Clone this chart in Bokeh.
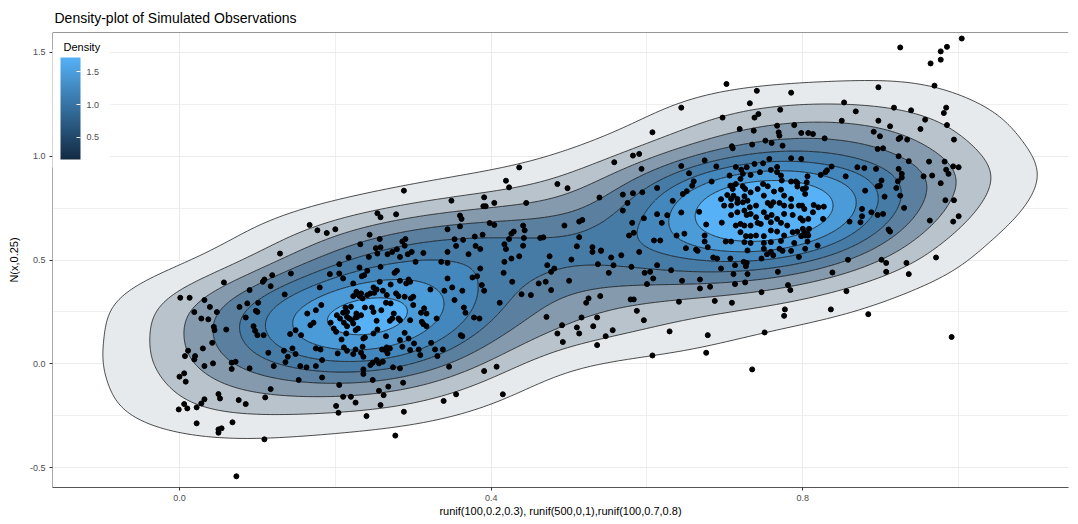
import numpy as np
from bokeh.plotting import figure
from bokeh.models import (ColorBar, LinearColorMapper, FixedTicker, Span, Range1d,
                          PrintfTickFormatter, Label)
from bokeh.embed import file_html
from bokeh.resources import INLINE

# ---------------- observations ----------------
# upper-left band
xA = [0.436,0.419,0.423,0.288,0.349,0.391,0.390,0.393,0.404,0.445,
      0.254,0.258,0.278,0.360,0.362,0.167,0.177,0.189,0.200,0.398,
      0.404,0.344,0.360,0.441,0.443,0.244,0.232,0.257,0.290,0.286,
      0.389,0.379,0.353,0.364,0.426,0.429,0.417,0.423,0.442,0.463,
      0.467,0.252,0.258,0.279,0.289,0.355,0.380,0.386,0.419,0.441]
yA = [0.946,0.882,0.850,0.834,0.786,0.802,0.759,0.759,0.775,0.775,
      0.725,0.706,0.720,0.714,0.698,0.669,0.643,0.630,0.648,0.678,
      0.669,0.648,0.662,0.666,0.643,0.622,0.576,0.601,0.601,0.589,
      0.622,0.613,0.600,0.597,0.627,0.637,0.576,0.601,0.606,0.606,
      0.609,0.557,0.561,0.552,0.569,0.568,0.568,0.553,0.553,0.569]
# upper part of right cluster
xB1 = [0.702,0.741,0.785,0.644,0.732,0.771,0.697,0.738,0.743,0.719,
       0.737,0.767,0.769,0.770,0.789,0.798,0.807,0.607,0.582,0.590,
       0.558,0.593,0.709,0.710,0.735,0.752,0.760,0.774,0.674,0.644,
       0.654,0.689,0.714,0.728,0.738,0.749,0.757,0.767,0.785,0.798]
yB1 = [1.348,1.315,1.306,1.234,1.255,1.224,1.186,1.186,1.203,1.131,
       1.123,1.147,1.115,1.099,1.150,1.112,1.112,1.115,1.003,1.011,
       0.971,0.939,1.048,1.038,1.056,1.075,1.064,1.051,0.980,0.953,
       0.918,0.951,0.948,0.947,0.963,0.966,0.987,0.948,0.990,0.987]
xB2 = [0.485,0.498,0.539,0.569,0.582,0.594,0.575,0.613,0.646,0.651,
       0.660,0.658,0.683,0.706,0.721,0.723,0.720,0.733,0.745,0.759,
       0.767,0.772,0.773,0.785,0.793,0.806,0.569,0.581,0.596,0.613,
       0.626,0.633,0.644,0.667,0.676,0.695,0.696,0.710]
yB2 = [0.866,0.846,0.801,0.815,0.822,0.826,0.775,0.847,0.818,0.831,
       0.879,0.858,0.878,0.907,0.935,0.915,0.891,0.910,0.923,0.934,
       0.923,0.907,0.883,0.878,0.871,0.903,0.738,0.679,0.701,0.721,
       0.716,0.785,0.729,0.732,0.671,0.793,0.680,0.858]
# core of right cluster
xB3 = [0.707,0.710,0.714,0.723,0.726,0.711,0.708,0.703,0.716,0.725,
       0.733,0.742,0.749,0.755,0.763,0.772,0.776,0.785,0.791,0.793,
       0.800,0.805,0.699,0.708,0.716,0.723,0.729,0.732,0.740,0.750,
       0.755,0.759,0.762,0.770,0.776,0.785,0.795,0.802,0.708,0.716,
       0.725,0.728,0.733,0.740,0.750,0.754,0.760,0.767,0.776,0.787,
       0.797,0.807,0.714,0.720,0.725,0.733,0.742,0.746,0.759,0.772,
       0.780,0.793,0.802,0.808,0.720,0.727,0.733,0.740,0.750,0.759,
       0.767,0.776,0.787,0.798,0.807,0.701,0.708,0.725,0.733,0.750,
       0.759,0.772,0.789,0.806,0.650,0.663,0.678,0.729,0.750,0.770]
yB3 = [0.858,0.842,0.866,0.855,0.842,0.810,0.794,0.813,0.794,0.807,
       0.826,0.842,0.866,0.855,0.830,0.839,0.810,0.794,0.878,0.854,
       0.842,0.874,0.762,0.762,0.775,0.778,0.786,0.754,0.762,0.810,
       0.775,0.762,0.778,0.775,0.762,0.759,0.762,0.746,0.717,0.730,
       0.738,0.717,0.722,0.706,0.730,0.706,0.717,0.698,0.722,0.717,
       0.701,0.698,0.666,0.674,0.666,0.666,0.679,0.674,0.682,0.679,
       0.666,0.637,0.634,0.650,0.634,0.615,0.615,0.618,0.615,0.642,
       0.637,0.618,0.634,0.615,0.618,0.589,0.589,0.586,0.582,0.582,
       0.586,0.592,0.582,0.589,0.557,0.550,0.562,0.546,0.554,0.554]
xB4 = [0.494,0.513,0.517,0.577,0.583,0.619,0.648,0.638,0.609,0.617,
       0.674,0.674,0.513,0.510,0.530,0.541]
yB4 = [0.666,0.685,0.693,0.618,0.631,0.679,0.627,0.618,0.594,0.594,
       0.618,0.589,0.610,0.566,0.562,0.546]
# right side, upper
xC = [1.004,0.985,0.977,0.977,0.964,0.925,0.969,0.897,0.853,0.868,
      0.917,0.939,0.984,0.981,0.850,0.897,0.912,0.957,0.951,0.985,
      0.891,0.899,0.923,0.925,0.934,0.994,0.828,0.813,0.896,0.903,
      0.923,0.936,0.962,0.982,0.993,1.000,0.984,0.987,0.955,0.966,
      0.977,0.923,0.927,0.927,0.922,0.920,0.901,0.899,0.896,0.894,
      0.879,0.870,0.855,0.837,0.831,0.829,0.823,0.804,0.803,0.799,
      0.814,0.820,0.827,0.813,0.826,0.800,0.800,0.803,0.806,0.880,
      0.905,0.925,0.930,0.896,0.903,0.876,0.888,0.876,0.874,0.860,
      0.910,0.912,0.983,0.994,1.000,0.963,0.993,0.971,0.858,0.901,
      0.819,0.803]
yC = [1.567,1.527,1.505,1.465,1.447,1.524,1.340,1.332,1.259,1.216,
      1.234,1.221,1.234,1.208,1.171,1.171,1.144,1.176,1.131,1.150,
      1.118,1.096,1.083,1.089,1.080,1.080,1.086,1.107,1.035,1.038,
      1.000,0.976,0.974,0.974,0.951,0.947,0.935,0.915,0.903,0.907,
      0.870,0.939,0.915,0.897,0.879,0.847,0.883,0.858,0.855,0.939,
      0.943,0.947,0.903,0.950,0.932,0.923,0.910,0.847,0.818,0.762,
      0.765,0.754,0.757,0.730,0.698,0.690,0.650,0.618,0.626,0.834,
      0.805,0.810,0.751,0.717,0.722,0.746,0.730,0.711,0.682,0.685,
      0.647,0.637,0.788,0.788,0.711,0.690,0.685,0.512,0.501,0.501,
      0.570,0.554]
# left side, lower
xD = [0.129,0.057,0.001,0.013,0.032,0.039,0.019,0.028,0.037,0.048,
      0.044,0.045,0.060,0.011,0.007,0.020,0.019,0.030,0.042,0.043,
      0.032,0.067,0.072,0.067,0.000,0.006,0.008,0.050,0.052,0.032,
      0.028,0.022,0.006,-0.001,0.010,0.076,0.085,0.110,0.117,0.022,
      0.068,0.050,0.054,0.050,0.109,0.073,0.090,0.107,0.109,0.119,
      0.143,0.117,0.135,0.077,0.087,0.101,0.098,0.100,0.085,0.095,
      0.097,0.108,0.100,0.114,0.121,0.134,0.139,0.145,0.149,0.136,
      0.149,0.142,0.153,0.090]
yD = [0.531,0.392,0.318,0.318,0.307,0.274,0.249,0.218,0.214,0.249,
      0.178,0.162,0.165,0.063,0.037,0.037,0.021,0.074,0.101,0.002,
      -0.011,0.005,0.010,-0.025,-0.062,-0.046,-0.086,-0.146,-0.167,-0.171,
      -0.191,-0.210,-0.194,-0.220,-0.215,-0.175,-0.194,-0.162,-0.122,-0.287,
      -0.282,-0.316,-0.311,-0.332,-0.364,-0.542,0.355,0.395,0.406,0.427,
      0.435,0.374,0.334,0.274,0.291,0.294,0.255,0.250,0.223,0.181,
      0.159,0.138,0.138,0.053,-0.011,0.063,0.034,0.074,0.047,0.008,
      0.162,0.143,-0.078,-0.022]
# left cluster and middle, lower
xE = [0.217,0.243,0.254,0.267,0.273,0.283,0.293,0.298,0.313,0.344,
      0.371,0.417,0.426,0.436,0.475,0.205,0.231,0.258,0.279,0.276,
      0.303,0.336,0.344,0.386,0.416,0.427,0.472,0.477,0.481,0.193,
      0.205,0.210,0.223,0.234,0.241,0.237,0.249,0.257,0.271,0.283,
      0.291,0.294,0.296,0.322,0.340,0.344,0.350,0.363,0.376,0.382,
      0.388,0.391,0.461,0.477,0.439,0.451,0.180,0.182,0.164,0.175,
      0.172,0.168,0.202,0.210,0.213,0.215,0.220,0.223,0.227,0.229,
      0.231,0.233,0.235,0.241,0.245,0.250,0.253,0.261,0.266,0.265,
      0.271,0.278,0.281,0.289,0.297,0.300,0.300,0.314,0.317,0.310,
      0.227,0.215,0.218,0.221,0.228,0.233,0.238,0.247,0.249,0.253,
      0.259,0.270,0.273,0.275,0.281,0.283,0.289,0.296,0.311,0.313,
      0.330,0.353,0.365,0.367,0.378,0.385,0.411,0.156,0.198,0.194,
      0.206,0.211,0.215,0.223,0.226,0.229,0.226,0.201,0.208,0.214,
      0.236,0.238,0.265,0.254,0.249,0.283,0.294,0.301,0.323,0.361,
      0.363,0.317,0.260,0.264,0.267,0.266,0.270,0.286,0.296,0.307,
      0.328,0.338,0.309,0.331,0.283,0.261,0.256,0.253,0.248,0.245,
      0.236,0.233,0.235,0.226,0.223,0.215,0.211,0.203,0.175,0.181,
      0.183,0.175,0.163,0.155,0.183,0.205,0.210,0.220,0.226,0.201,
      0.204,0.240,0.236,0.236,0.248,0.258,0.262,0.268,0.256,0.274,
      0.287,0.288,0.277,0.339,0.355,0.346,0.391,0.407,0.415,0.471,
      0.485,0.470]
yE = [0.512,0.515,0.531,0.528,0.539,0.515,0.528,0.539,0.534,0.539,
      0.528,0.491,0.507,0.518,0.518,0.480,0.464,0.467,0.448,0.438,
      0.491,0.491,0.486,0.459,0.438,0.395,0.475,0.443,0.459,0.432,
      0.435,0.411,0.387,0.422,0.448,0.427,0.368,0.395,0.382,0.400,
      0.387,0.406,0.395,0.358,0.352,0.411,0.368,0.352,0.416,0.422,
      0.379,0.352,0.387,0.355,0.335,0.331,0.368,0.283,0.242,0.258,
      0.198,0.186,0.234,0.246,0.271,0.250,0.275,0.326,0.347,0.335,
      0.326,0.339,0.315,0.331,0.339,0.342,0.358,0.352,0.331,0.294,
      0.291,0.339,0.326,0.323,0.315,0.323,0.283,0.267,0.242,0.246,
      0.242,0.226,0.218,0.210,0.226,0.234,0.271,0.271,0.250,0.207,
      0.258,0.207,0.218,0.242,0.218,0.210,0.149,0.210,0.202,0.191,
      0.218,0.307,0.271,0.246,0.223,0.218,0.294,0.138,0.170,0.198,
      0.218,0.198,0.181,0.194,0.162,0.170,0.223,0.154,0.117,0.146,
      0.122,0.127,0.133,0.165,0.146,0.114,0.122,0.098,0.101,0.138,
      0.133,0.181,0.069,0.066,0.050,0.079,0.074,0.082,0.066,0.069,
      0.069,0.069,0.042,0.037,-0.022,0.010,0.002,0.018,0.005,-0.006,
      0.034,0.053,0.082,0.069,0.047,0.063,0.079,0.050,0.074,0.069,
      0.018,-0.011,-0.017,-0.011,-0.066,-0.102,-0.159,-0.159,-0.187,-0.203,
      -0.236,-0.252,-0.049,-0.027,-0.078,-0.199,-0.151,-0.110,-0.130,-0.017,
      -0.091,-0.231,-0.346,-0.179,-0.147,-0.014,-0.035,-0.014,-0.147,0.226,
      0.146,0.395]
# middle-right, lower
xF = [0.530,0.541,0.554,0.567,0.590,0.665,0.685,0.690,0.707,0.713,
      0.724,0.728,0.727,0.747,0.754,0.759,0.762,0.774,0.785,0.795,
      0.503,0.537,0.557,0.551,0.580,0.597,0.604,0.613,0.631,0.695,
      0.711,0.729,0.768,0.500,0.608,0.600,0.645,0.668,0.681,0.668,
      0.713,0.726,0.781,0.784,0.747,0.525,0.522,0.540,0.579,0.583,
      0.587,0.596,0.641,0.687,0.709,0.516,0.536,0.531,0.491,0.510,
      0.513,0.492,0.556,0.547,0.536,0.629,0.678,0.751,0.777,0.776,
      0.607,0.676,0.735]
yF = [0.539,0.544,0.512,0.523,0.539,0.544,0.512,0.507,0.507,0.475,
      0.491,0.486,0.470,0.507,0.528,0.539,0.523,0.544,0.544,0.515,
      0.502,0.480,0.475,0.438,0.467,0.438,0.443,0.475,0.451,0.459,
      0.432,0.432,0.443,0.400,0.411,0.384,0.400,0.406,0.371,0.363,
      0.384,0.392,0.379,0.355,0.345,0.315,0.294,0.326,0.310,0.310,
      0.255,0.210,0.299,0.303,0.294,0.223,0.223,0.181,0.186,0.175,
      0.146,0.105,0.162,0.133,0.090,0.156,0.138,0.151,0.262,0.231,
      0.040,0.053,-0.027]
# right side, lower
xG = [0.907,0.933,0.838,0.907,0.936,0.856,0.836,0.884,0.991]
yG = [0.486,0.486,0.440,0.443,0.432,0.350,0.262,0.239,0.129]

density_levels = [0.2, 0.4, 0.6, 0.8, 1.0, 1.2, 1.4, 1.6]
x_ticks = [0.0, 0.4, 0.8]
x_minor = [0.2, 0.6, 1.0]
y_ticks = [-0.5, 0.0, 0.5, 1.0, 1.5]
y_minor = [-0.25, 0.25, 0.75, 1.25]
legend_ticks = [0.5, 1.0, 1.5]

obs_x = np.array(xA + xB1 + xB2 + xB3 + xB4 + xC + xD + xE + xF + xG)
obs_y = np.array(yA + yB1 + yB2 + yB3 + yB4 + yC + yD + yE + yF + yG)

X0, X1 = -0.163, 1.141
Y0, Y1 = -0.596, 1.596

# ---------------- 2-D kernel density (as MASS::kde2d) ----------------
def bw_nrd(v):
    q1, q3 = np.percentile(v, [25, 75])
    return 4 * 1.06 * min(np.std(v, ddof=1), (q3 - q1) / 1.34) * len(v) ** (-0.2)

BW_SCALE_X, BW_SCALE_Y = 1.35, 1.1
n = len(obs_x)
hx = bw_nrd(obs_x) / 4 * BW_SCALE_X
hy = bw_nrd(obs_y) / 4 * BW_SCALE_Y
gx = np.linspace(X0, X1, 220)
gy = np.linspace(Y0, Y1, 260)
kx = np.exp(-0.5 * ((gx[:, None] - obs_x[None, :]) / hx) ** 2) / (np.sqrt(2 * np.pi) * hx)
ky = np.exp(-0.5 * ((gy[:, None] - obs_y[None, :]) / hy) ** 2) / (np.sqrt(2 * np.pi) * hy)
dens = (ky @ kx.T) / n
zmax = float(dens.max())

lv = [l for l in density_levels if l < zmax]
levels = lv + [zmax * 1.0001]

def hex2rgb(h):
    h = h.lstrip("#")
    return np.array([int(h[i:i + 2], 16) for i in (0, 2, 4)], dtype=float)

def rgb2hex(c):
    c = np.clip(np.round(c), 0, 255).astype(int)
    return "#%02x%02x%02x" % tuple(c)

LOW, HIGH = hex2rgb("#132B43"), hex2rgb("#56B1F7")
lmin, lmax = density_levels[0], density_levels[-1]
band_colors = []
acc = np.array([255.0, 255.0, 255.0])
for L in lv:
    t = (L - lmin) / (lmax - lmin)
    col = LOW + (HIGH - LOW) * t
    a = 0.1 + 0.9 * t
    acc = acc * (1 - a) + col * a
    band_colors.append(rgb2hex(acc))

palette = [rgb2hex(LOW + (HIGH - LOW) * i / 255) for i in range(256)]

# ---------------- figure ----------------
FONT = "Liberation Sans"
p = figure(width=1078, height=524, x_range=Range1d(X0, X1), y_range=Range1d(Y0, Y1),
           output_backend="svg", toolbar_location=None,
           min_border_left=52, min_border_right=10, min_border_top=32, min_border_bottom=37)
p.outline_line_color = None
p.background_fill_color = "white"
p.border_fill_color = "white"

p.title.text = "Density-plot of Simulated Observations"
p.title.text_font = FONT
p.title.text_font_size = "14px"
p.title.text_font_style = "normal"
p.title.text_color = "black"
p.title.align = "left"
p.title.offset = 2
p.title.standoff = 14

p.xaxis.ticker = FixedTicker(ticks=x_ticks, minor_ticks=x_minor)
p.yaxis.ticker = FixedTicker(ticks=y_ticks, minor_ticks=y_minor)
for ax in (p.xaxis, p.yaxis):
    ax.formatter = PrintfTickFormatter(format="%.1f")
    ax.major_label_text_font = FONT
    ax.major_label_text_font_size = "9px"
    ax.major_label_text_color = "#4d4d4d"
    ax.major_tick_in = 0
    ax.major_tick_out = 3
    ax.major_tick_line_color = "#333333"
    ax.minor_tick_line_color = None
    ax.axis_label_text_font = FONT
    ax.axis_label_text_font_size = "11px"
    ax.axis_label_text_font_style = "normal"
    ax.axis_label_text_color = "black"
p.xaxis.axis_label = "runif(100,0.2,0.3), runif(500,0,1),runif(100,0.7,0.8)"
p.yaxis.axis_label = "N(x,0.25)"
p.xaxis.major_label_standoff = 3
p.xaxis.axis_label_standoff = 1
p.yaxis.major_label_standoff = 3
p.yaxis.axis_label_standoff = 7
p.xaxis.axis_line_color = "#555555"
p.yaxis.axis_line_color = None

for g in (p.xgrid, p.ygrid):
    g.grid_line_color = "#EBEBEB"
    g.grid_line_width = 1
    g.minor_grid_line_color = "#EFEFEF"
    g.minor_grid_line_width = 1

p.contour(gx, gy, dens, levels, fill_color=band_colors, line_color="black",
          line_width=0.7)
p.scatter(obs_x, obs_y, size=5, color="black")

p.add_layout(Span(location=Y1, dimension="width", line_color="#333333", line_width=1))
p.add_layout(Span(location=X0, dimension="height", line_color="#555555", line_width=1))

mapper = LinearColorMapper(palette=palette, low=0.163, high=1.72)
cb = ColorBar(color_mapper=mapper, location=(0, 320), orientation="vertical",
              width=20, height=102,
              ticker=FixedTicker(ticks=legend_ticks),
              formatter=PrintfTickFormatter(format="%.1f"),
              major_label_text_font=FONT, major_label_text_font_size="9px",
              major_label_text_color="#4d4d4d",
              major_tick_line_color="white", major_tick_in=4, major_tick_out=0,
              minor_tick_line_color=None, bar_line_color=None,
              border_line_color=None, background_fill_color="white",
              background_fill_alpha=1.0, padding=8, margin=0, label_standoff=6)
p.add_layout(cb)

p.add_layout(Label(x=X0, y=Y1, x_units="data", y_units="data", x_offset=8, y_offset=-5,
                   text="Density", text_baseline="top", text_align="left",
                   text_font=FONT, text_font_size="11px", text_color="black",
                   background_fill_color="white", padding=3))

open("out.html", "w").write(file_html(p, INLINE))
